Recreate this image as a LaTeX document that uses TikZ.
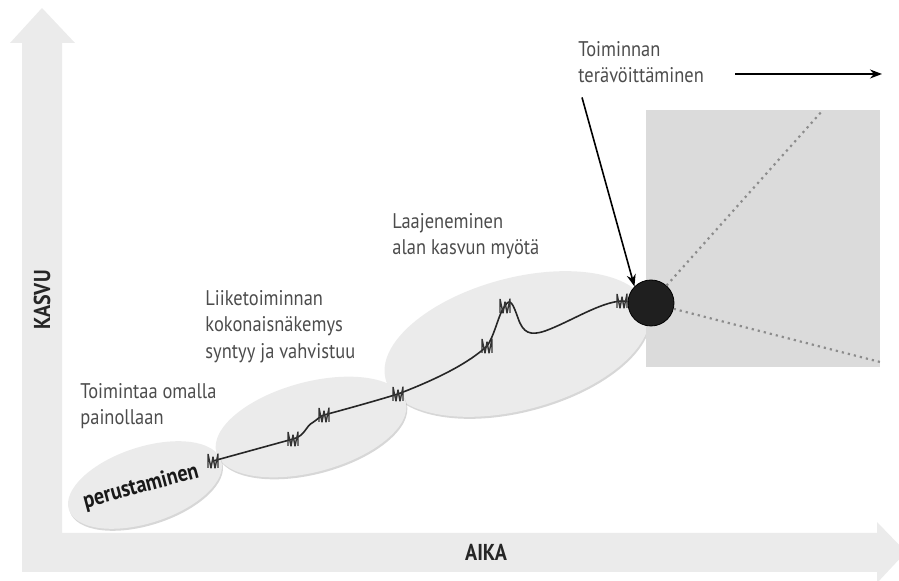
\documentclass[tikz,border=0pt]{standalone}
\usepackage{fontspec}
\setmainfont{PT Sans}[FakeStretch=0.87]
\usetikzlibrary{shapes.geometric, arrows, arrows.meta}
\usetikzlibrary{positioning,calc,shadows}

\begin{document}
\begin{tikzpicture}[x=0.5pt,y=-0.5pt]
	%defines
	\tikzstyle{axisBand} = [fill=black!8]
	\tikzstyle{phaseEllipse} = [ellipse, fill=black!8, inner sep=0pt, drop shadow={fill=black!35, opacity=0.45, shadow xshift=0.5pt, shadow yshift=-1pt}]
	\tikzstyle{phaseLabel} = [anchor=north west, align=left, inner sep=0pt, text=black!70, font=\fontsize{10.6}{13.2}\selectfont]
	\tikzstyle{axisLabel} = [inner sep=0pt, text=black!85, font=\fontsize{11.5}{13}\selectfont\bfseries]
	\tikzstyle{growth} = [thick, black!85]
	\tikzstyle{arrow} = [thick,-{Stealth[length=6pt,width=4.5pt]}]
	\tikzstyle{ray} = [black!45, dotted, line width=1.1pt]
	\tikzset{brk/.pic={\draw[black!80, line width=0.7pt, line join=round] (-5,-7)--(-5,7) (-5,-7)--(-2,7)--(0,-4)--(2,7)--(5,-7)--(5,7);}}
	\useasboundingbox (0,0) rectangle (899,581);
	%axes
	\fill[axisBand] (22,533) -- (22,43) -- (10,43) -- (42,8) -- (75,43) -- (62,43) -- (62,533) -- (877,533) -- (877,522) -- (906,552) -- (877,583) -- (877,572) -- (22,572) -- cycle;
	\node (kasvu) [axisLabel, rotate=90] at (42,300) {KASVU};
	\node (aika) [axisLabel] at (486,552) {AIKA};
	%phases
	\node (phase3) [phaseEllipse, minimum width=136pt, minimum height=66pt, rotate=15] at (517,344) {};
	\node (phase2) [phaseEllipse, minimum width=98pt, minimum height=45pt, rotate=15] at (311,427) {};
	\node (phase1) [phaseEllipse, minimum width=80pt, minimum height=38pt, rotate=18] at (145,485) {};
	\fill[black!14] (646,110) rectangle (880,367);
	\coordinate (rayTop) at (823,110);
	\coordinate (rayEnd) at (880,362);
	\node (dot) [circle, fill=black!88, draw=black, minimum size=23pt, inner sep=0pt] at (651,303) {};
	\draw [ray] (dot) -- (rayTop);
	\draw [ray] (dot) -- (rayEnd);
	%growth line
	\coordinate (m1) at (213,461);
	\coordinate (m2) at (293,439);
	\coordinate (m3) at (324,415);
	\coordinate (m4) at (398,394);
	\coordinate (m5) at (487,346);
	\coordinate (m6) at (505,306);
	\coordinate (m7) at (622,301);
	\draw [growth] (m1) -- (m2) .. controls (305,436) and (306,426) .. (312,423) .. controls (317,420) and (320,416) .. (m3)
		.. controls (350,408) and (375,401) .. (m4) .. controls (440,378) and (470,362) .. (m5)
		.. controls (495,335) and (499,312) .. (m6) .. controls (510,297) and (513,304) .. (518,318)
		.. controls (523,333) and (530,336) .. (545,331) .. controls (570,322) and (600,302) .. (m7) -- (dot);
	\foreach \m in {m1,m2,m3,m4,m5,m6,m7}
		\pic at (\m) {brk};
	%labels
	\node (lblStart) [rotate=15, text=black!90, font=\fontsize{11.6}{14}\selectfont\bfseries] at (141,487) {perustaminen};
	\node (lblFound) [phaseLabel] at (80,383) {Toimintaa omalla\\painollaan};
	\node (lblWhole) [phaseLabel] at (205,290) {Liiketoiminnan\\kokonaisnäkemys\\syntyy ja vahvistuu};
	\node (lblGrow) [phaseLabel] at (392,213) {Laajeneminen\\alan kasvun myötä};
	\node (lblSharp) [phaseLabel] at (578,41) {Toiminnan\\terävöittäminen};
	\draw [arrow] ([shift={(4,14)}]lblSharp.south west) -- (dot.135);
	\coordinate (flowStart) at (735,74);
	\coordinate (flowEnd) at (882,74);
	\draw [arrow] (flowStart) -- (flowEnd);
\end{tikzpicture}
\end{document}
